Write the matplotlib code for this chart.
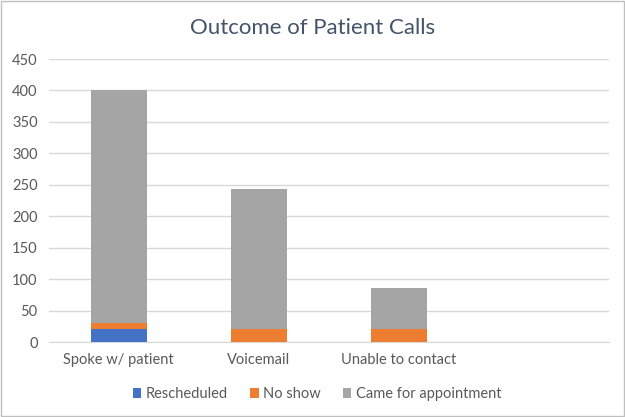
import numpy as np
import matplotlib
matplotlib.use("Agg")
import matplotlib.pyplot as plt
from matplotlib.patches import Rectangle

# data
categories = ["Spoke w/ patient", "Voicemail", "Unable to contact", ""]
rescheduled = [21, 0, 0, 0]
no_show = [9, 22, 22, 0]
came = [370, 222, 65, 0]

plt.rcParams['font.family'] = ['Lato', 'DejaVu Sans']

fig = plt.figure(figsize=(6.25, 4.17), dpi=100)
ax = fig.add_axes([0.078, 0.179, 0.896, 0.6795])

x = np.arange(len(categories))
w = 0.4
resc = np.array(rescheduled)
ns = np.array(no_show)
cm = np.array(came)
ax.bar(x, resc, w, color="#4472C4", label="Rescheduled", zorder=3)
ax.bar(x, ns, w, bottom=resc, color="#ED7D31", label="No show", zorder=3)
ax.bar(x, cm, w, bottom=resc + ns, color="#A5A5A5", label="Came for appointment", zorder=3)

ax.set_xlim(-0.5, len(categories) - 0.5)
ax.set_ylim(0, 450)
ax.set_yticks(range(0, 451, 50))
ax.set_xticks(x)
ax.set_xticklabels(categories)
ax.yaxis.grid(True, color="#D9D9D9", linewidth=1, zorder=0)
for s in ["top", "right", "left"]:
    ax.spines[s].set_visible(False)
ax.spines["bottom"].set_color("#D9D9D9")
ax.tick_params(axis="both", length=0, labelsize=10.5, colors="#595959")
ax.tick_params(axis="y", pad=8)
ax.tick_params(axis="x", pad=8)

fig.suptitle("Outcome of Patient Calls", y=0.933, va="center", fontsize=16, color="#44546A")

fig.legend(loc="center", bbox_to_anchor=(0.507, 0.055), ncol=3, frameon=False,
           fontsize=10.5, handlelength=0.6, handleheight=0.6, handletextpad=0.3,
           columnspacing=1.5, labelcolor="#595959")

# chart border
fig.patches.append(Rectangle((0.002, 0.002), 0.996, 0.996, transform=fig.transFigure,
                             fill=False, edgecolor="#BFBFBF", linewidth=1))

fig.savefig("out.png", dpi=100)
